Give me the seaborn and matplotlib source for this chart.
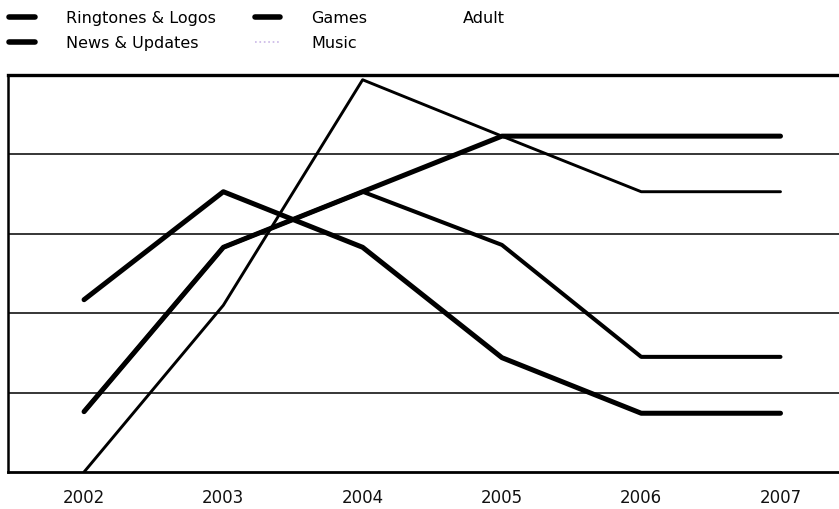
import numpy as np
import pandas as pd
import matplotlib
matplotlib.use("Agg")
import matplotlib.pyplot as plt
from matplotlib.lines import Line2D
import seaborn as sns

years = [2002, 2003, 2004, 2005, 2006, 2007]
ringtones_logos = [2.17, 3.53, 2.83, 1.44, 0.74, 0.74]
games = [0.76, 2.83, 3.53, 4.23, 4.23, 4.23]
adult = [np.nan] * 6
news_updates = [0.76, 2.83, 3.53, 2.86, 1.45, 1.45]
music = [0.0, 2.10, 4.94, 4.23, 3.53, 3.53]

series_names = ["Ringtones & Logos", "Games", "Adult", "News & Updates", "Music"]
series_vals = [ringtones_logos, games, adult, news_updates, music]

df = pd.DataFrame({
    "year": np.tile(years, len(series_names)),
    "value": np.concatenate(series_vals),
    "series": np.repeat(series_names, len(years)),
})

sns.set_theme(style="white")
plt.rcParams["font.family"] = ["DejaVu Sans"]

fig = plt.figure(figsize=(8.39, 5.09), dpi=100)
ax = fig.add_axes([8 / 839, 1 - 472 / 509, 1 - 8 / 839, (472 - 75) / 509])

widths = {"Ringtones & Logos": 3.6, "Games": 3.6, "Adult": 2.0,
          "News & Updates": 2.9, "Music": 2.1}
palette = {n: "black" for n in series_names}
palette["Adult"] = "white"

for name in series_names:
    sub = df[df["series"] == name].dropna()
    if sub.empty:
        continue
    sns.lineplot(data=sub, x="year", y="value", color=palette[name],
                 linewidth=widths[name], ax=ax, legend=False,
                 solid_capstyle="round", solid_joinstyle="round", zorder=3)

ax.set_xlim(2002 - 0.546, 2002 + 5.42)
ax.set_ylim(0, 5)
ax.set_yticks([1, 2, 3, 4])
ax.set_yticklabels([])
ax.tick_params(axis="y", length=0)
ax.yaxis.grid(True, color="black", linewidth=1.1)
ax.xaxis.grid(False)
ax.set_axisbelow(True)

ax.set_xticks(years)
ax.set_xticklabels([str(y) for y in years], fontsize=12, color="#111111")
ax.tick_params(axis="x", which="major", length=0, pad=12)
ax.set_xticks([y + 0.5 for y in years[:-1]], minor=True)
ax.tick_params(axis="x", which="minor", direction="in", length=8, width=1.5, color="black")
ax.set_xlabel("")
ax.set_ylabel("")

for side in ["left", "bottom", "top"]:
    ax.spines[side].set_visible(True)
    ax.spines[side].set_color("black")
ax.spines["left"].set_linewidth(1.8)
ax.spines["bottom"].set_linewidth(2.0)
ax.spines["top"].set_linewidth(2.4)
ax.spines["right"].set_visible(False)

handles = {
    "Ringtones & Logos": Line2D([], [], color="black", lw=4.0, solid_capstyle="round"),
    "Games": Line2D([], [], color="black", lw=4.0, solid_capstyle="round"),
    "Adult": Line2D([], [], color="none", lw=4.0),
    "News & Updates": Line2D([], [], color="black", lw=4.0, solid_capstyle="round"),
    "Music": Line2D([], [], color="#c9b6e6", lw=1.2, linestyle=":"),
}
order = ["Ringtones & Logos", "News & Updates", "Games", "Music", "Adult"]
leg = fig.legend([handles[n] for n in order], order, loc="upper left",
                 bbox_to_anchor=(9 / 839, 1 - 11 / 509), ncol=3, frameon=False,
                 fontsize=11.5, handlelength=1.6, handletextpad=1.95,
                 columnspacing=2.45, labelspacing=0.6, borderaxespad=0.0,
                 borderpad=0.0)
for t in leg.get_texts():
    t.set_color("black")

fig.savefig("out.png", dpi=100, facecolor="white")
